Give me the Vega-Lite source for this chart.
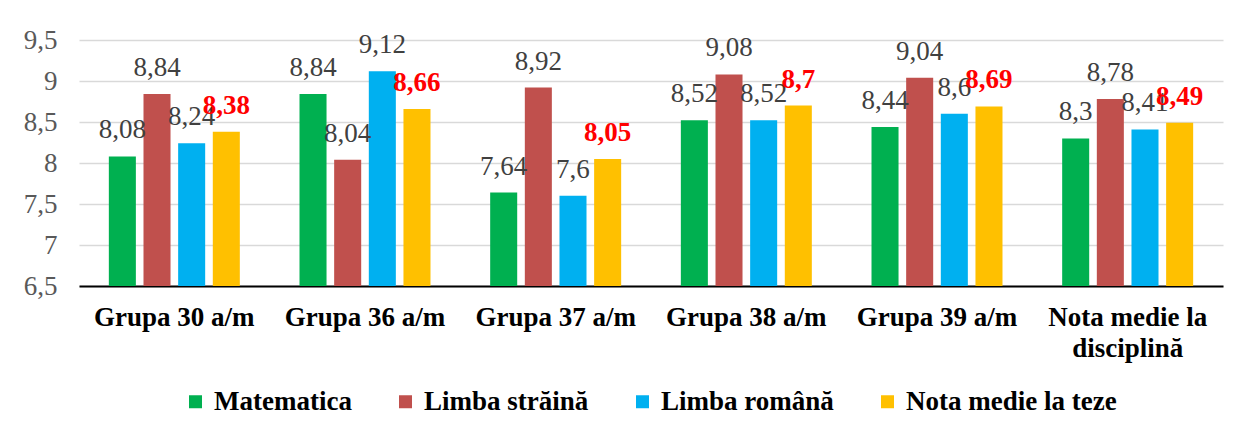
{
  "$schema": "https://vega.github.io/schema/vega-lite/v6.json",
  "width": 1144,
  "height": 246,
  "autosize": {"type": "none"},
  "padding": {"left": 79, "top": 40, "right": 18, "bottom": 148},
  "background": "white",
  "config": {
    "locale": {"number": {"decimal": ",", "thousands": ".", "grouping": [3], "currency": ["", ""]}},
    "view": {"stroke": null},
    "font": "'Times New Roman', 'Liberation Serif', 'DejaVu Serif', serif"
  },
  "data": {
    "values": [
      {"group": "Grupa 30 a/m", "subject": "Matematica", "value": 8.08},
      {"group": "Grupa 30 a/m", "subject": "Limba străină", "value": 8.84},
      {"group": "Grupa 30 a/m", "subject": "Limba română", "value": 8.24},
      {"group": "Grupa 30 a/m", "subject": "Nota medie la teze", "value": 8.38},
      {"group": "Grupa 36 a/m", "subject": "Matematica", "value": 8.84},
      {"group": "Grupa 36 a/m", "subject": "Limba străină", "value": 8.04},
      {"group": "Grupa 36 a/m", "subject": "Limba română", "value": 9.12},
      {"group": "Grupa 36 a/m", "subject": "Nota medie la teze", "value": 8.66},
      {"group": "Grupa 37 a/m", "subject": "Matematica", "value": 7.64},
      {"group": "Grupa 37 a/m", "subject": "Limba străină", "value": 8.92},
      {"group": "Grupa 37 a/m", "subject": "Limba română", "value": 7.6},
      {"group": "Grupa 37 a/m", "subject": "Nota medie la teze", "value": 8.05},
      {"group": "Grupa 38 a/m", "subject": "Matematica", "value": 8.52},
      {"group": "Grupa 38 a/m", "subject": "Limba străină", "value": 9.08},
      {"group": "Grupa 38 a/m", "subject": "Limba română", "value": 8.52},
      {"group": "Grupa 38 a/m", "subject": "Nota medie la teze", "value": 8.7},
      {"group": "Grupa 39 a/m", "subject": "Matematica", "value": 8.44},
      {"group": "Grupa 39 a/m", "subject": "Limba străină", "value": 9.04},
      {"group": "Grupa 39 a/m", "subject": "Limba română", "value": 8.6},
      {"group": "Grupa 39 a/m", "subject": "Nota medie la teze", "value": 8.69},
      {"group": "Nota medie la disciplină", "subject": "Matematica", "value": 8.3},
      {"group": "Nota medie la disciplină", "subject": "Limba străină", "value": 8.78},
      {"group": "Nota medie la disciplină", "subject": "Limba română", "value": 8.41},
      {"group": "Nota medie la disciplină", "subject": "Nota medie la teze", "value": 8.49}
    ]
  },
  "encoding": {
    "x": {
      "field": "group",
      "type": "nominal",
      "scale": {
        "domain": ["Grupa 30 a/m", "Grupa 36 a/m", "Grupa 37 a/m", "Grupa 38 a/m", "Grupa 39 a/m", "Nota medie la disciplină"],
        "paddingInner": 0.313,
        "paddingOuter": 0.1565
      },
      "axis": {
        "title": null,
        "labelFontSize": 27,
        "labelFontWeight": "bold",
        "labelColor": "black",
        "ticks": false,
        "domainColor": "black",
        "domainWidth": 2,
        "labelPadding": 18,
        "labelAngle": 0,
        "labelLineHeight": 31,
        "labelBaseline": "top",
        "labelLimit": 400,
        "labelOverlap": false,
        "labelExpr": "datum.label == 'Nota medie la disciplină' ? ['Nota medie la', 'disciplină'] : datum.label"
      }
    },
    "xOffset": {
      "field": "subject",
      "type": "nominal",
      "scale": {
        "domain": ["Matematica", "Limba străină", "Limba română", "Nota medie la teze"],
        "paddingInner": 0.22,
        "paddingOuter": 0
      }
    },
    "y": {
      "field": "value",
      "type": "quantitative",
      "scale": {"domain": [6.5, 9.5], "zero": false, "nice": false},
      "axis": {
        "title": null,
        "values": [6.5, 7, 7.5, 8, 8.5, 9, 9.5],
        "format": "~g",
        "domain": false,
        "ticks": false,
        "labelFontSize": 27,
        "labelColor": "#595959",
        "labelPadding": 22,
        "gridColor": "#D9D9D9",
        "gridWidth": 1.5
      }
    }
  },
  "layer": [
    {
      "mark": {"type": "bar"},
      "encoding": {
        "y2": {"datum": 6.5},
        "color": {
          "field": "subject",
          "type": "nominal",
          "scale": {
            "domain": ["Matematica", "Limba străină", "Limba română", "Nota medie la teze"],
            "range": ["#00B050", "#C0504D", "#00B0F0", "#FFC000"]
          },
          "legend": {
            "title": null,
            "orient": "none",
            "legendX": 103,
            "legendY": 348,
            "direction": "horizontal",
            "symbolType": "square",
            "symbolSize": 169,
            "symbolStrokeWidth": 0,
            "labelFontSize": 27,
            "labelFontWeight": "bold",
            "labelColor": "black",
            "labelLimit": 400,
            "columnPadding": 40,
            "labelOffset": 5
          }
        }
      }
    },
    {
      "transform": [{"filter": "datum.subject != 'Nota medie la teze'"}],
      "mark": {"type": "text", "baseline": "alphabetic", "dy": -18, "fontSize": 27, "color": "#404040"},
      "encoding": {"text": {"field": "value", "type": "quantitative", "format": "~g"}}
    },
    {
      "transform": [{"filter": "datum.subject == 'Nota medie la teze'"}],
      "mark": {"type": "text", "baseline": "alphabetic", "dy": -18, "fontSize": 27, "fontWeight": "bold", "color": "#FF0000"},
      "encoding": {"text": {"field": "value", "type": "quantitative", "format": "~g"}}
    }
  ]
}
